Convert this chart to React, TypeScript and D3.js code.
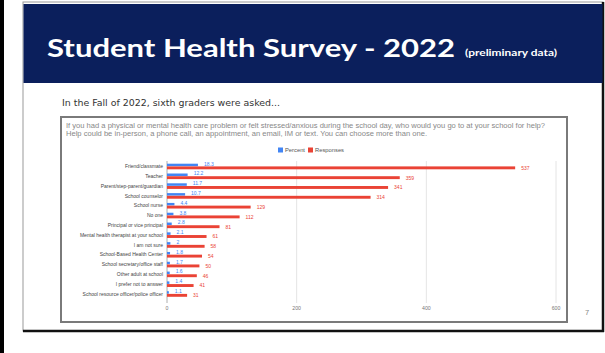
import React from "react";
import * as d3 from "d3";

const categories = [
  "Friend/classmate",
  "Teacher",
  "Parent/step-parent/guardian",
  "School counselor",
  "School nurse",
  "No one",
  "Principal or vice principal",
  "Mental health therapist at your school",
  "I am not sure",
  "School-Based Health Center",
  "School secretary/office staff",
  "Other adult at school",
  "I prefer not to answer",
  "School resource officer/police officer",
];
const percentValues = [18.3, 12.2, 11.7, 10.7, 4.4, 3.8, 2.8, 2.1, 2.0, 1.8, 1.7, 1.6, 1.4, 1.1];
const responseValues = [537, 359, 341, 314, 129, 112, 81, 61, 58, 54, 50, 46, 41, 31];
const xTicks = [0, 200, 400, 600];
const legendItems = ["Percent", "Responses"];

const BLUE = "#4285F4";
const RED = "#EA4335";
const NAVY = "#0b1f5c";

export default function App() {
  const xResp = d3.scaleLinear().domain([0, 600]).range([167, 556]);
  const xPct = d3.scaleLinear().domain([0, 230]).range([167, 556]);
  const y = d3.scaleBand<string>().domain(categories).range([161.5, 298.8]);
  const bw = y.bandwidth();
  const font = "Arial, 'Liberation Sans', sans-serif";

  return (
    <svg
      width={605}
      height={353}
      style={{ position: "absolute", left: 0, top: 0, background: "#fff" }}
    >
      {/* left black bar */}
      <rect x={0} y={0} width={4} height={353} fill="#000" />
      {/* slide */}
      <rect x={23} y={2} width={580} height={329} fill="#fff" stroke="#9a9a9a" strokeWidth={1} />
      <line x1={23} y1={331} x2={604} y2={331} stroke="#111" strokeWidth={2.5} />
      <line x1={603} y1={2} x2={603} y2={332} stroke="#111" strokeWidth={2.5} />
      <rect x={23.5} y={4} width={579} height={79} fill={NAVY} />
      <text
        x={47}
        y={57}
        fill="#fff"
        fontFamily="Lato, 'Open Sans', sans-serif"
        fontWeight={700}
        fontSize={24}
        textLength={408}
        lengthAdjust="spacingAndGlyphs"
      >
        Student Health Survey - 2022
      </text>
      <text
        x={465}
        y={56}
        fill="#fff"
        fontFamily="Lato, 'Open Sans', sans-serif"
        fontWeight={700}
        fontSize={8.5}
        textLength={92}
        lengthAdjust="spacingAndGlyphs"
      >
        (preliminary data)
      </text>
      <text
        x={62}
        y={106}
        fill="#333"
        fontFamily="'DejaVu Sans', sans-serif"
        fontSize={8.2}
        textLength={218}
        lengthAdjust="spacingAndGlyphs"
      >
        In the  Fall of 2022, sixth graders were asked...
      </text>
      <text x={587} y={315} fill="#888" fontFamily={font} fontSize={7.5} textAnchor="middle">
        7
      </text>

      {/* chart box */}
      <rect x={61} y={117} width={506} height={205} fill="#fff" stroke="#7a7a7a" strokeWidth={2} />
      <text x={66} y={128} fill="#888" fontFamily={font} fontSize={6.6} textLength={479} lengthAdjust="spacingAndGlyphs">
        If you had a physical or mental health care problem or felt stressed/anxious during the school day, who would you go to at your school for help?
      </text>
      <text x={66} y={135.5} fill="#888" fontFamily={font} fontSize={6.6} textLength={361} lengthAdjust="spacingAndGlyphs">
        Help could be in-person, a phone call, an appointment, an email, IM or text. You can choose more than one.
      </text>

      {/* legend */}
      {legendItems.map((name, i) => {
        const lx = i === 0 ? 278 : 308;
        return (
          <g key={name}>
            <rect x={lx} y={147.5} width={5} height={5} fill={i === 0 ? BLUE : RED} />
            <text x={lx + 7} y={152.2} fill="#555" fontFamily={font} fontSize={5.8}>
              {name}
            </text>
          </g>
        );
      })}

      {/* gridlines */}
      {xTicks.map((t) => (
        <g key={t}>
          <line
            x1={xResp(t)}
            x2={xResp(t)}
            y1={161}
            y2={303}
            stroke={t === 0 ? "#999" : "#ddd"}
            strokeWidth={0.8}
          />
          <text x={xResp(t)} y={310} fill="#777" fontFamily={font} fontSize={5.2} textAnchor="middle">
            {t}
          </text>
        </g>
      ))}

      {/* bars */}
      {categories.map((c, i) => {
        const y0 = y(c)!;
        const pEnd = xPct(percentValues[i]);
        const rEnd = xResp(responseValues[i]);
        return (
          <g key={c}>
            <text
              x={163}
              y={y0 + bw / 2 + 1.8}
              fill="#444"
              fontFamily={font}
              fontSize={5}
              textAnchor="end"
            >
              {c}
            </text>
            <rect x={xPct(0)} y={y0 + 2.2} width={pEnd - xPct(0)} height={2.5} fill={BLUE} />
            <rect x={xResp(0)} y={y0 + 4.9} width={rEnd - xResp(0)} height={2.9} fill={RED} />
            <text x={pEnd + 6} y={y0 + 4.1} fill={BLUE} fontFamily={font} fontSize={5}>
              {percentValues[i]}
            </text>
            <text x={rEnd + 6} y={y0 + 8.2} fill={RED} fontFamily={font} fontSize={5}>
              {responseValues[i]}
            </text>
          </g>
        );
      })}
    </svg>
  );
}
